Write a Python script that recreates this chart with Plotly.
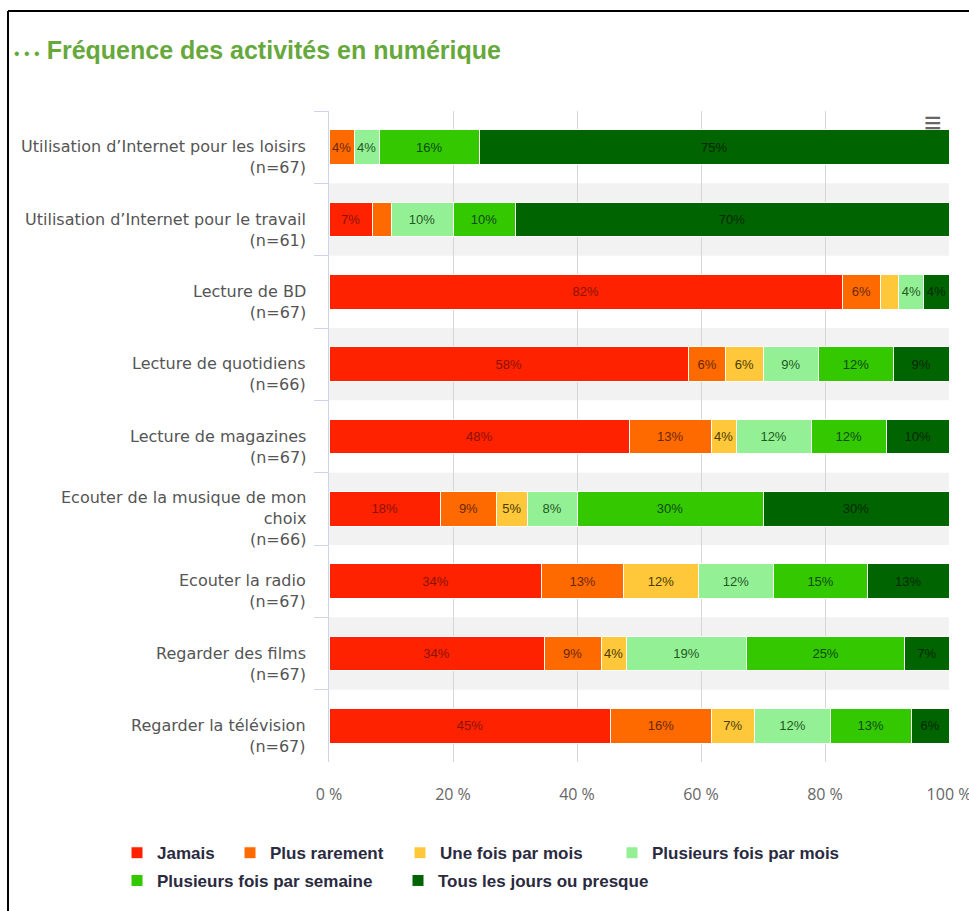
import plotly.graph_objects as go

categories = [
    "Utilisation d’Internet pour les loisirs<br>(n=67)",
    "Utilisation d’Internet pour le travail<br>(n=61)",
    "Lecture de BD<br>(n=67)",
    "Lecture de quotidiens<br>(n=66)",
    "Lecture de magazines<br>(n=67)",
    "Ecouter de la musique de mon<br>choix<br>(n=66)",
    "Ecouter la radio<br>(n=67)",
    "Regarder des films<br>(n=67)",
    "Regarder la télévision<br>(n=67)",
]

series_names = ["Jamais", "Plus rarement", "Une fois par mois",
                "Plusieurs fois par mois", "Plusieurs fois par semaine",
                "Tous les jours ou presque"]

jamais = [0, 7, 82, 58, 48, 18, 34, 34, 45]
plus_rarement = [4, 3, 6, 6, 13, 9, 13, 9, 16]
une_fois_par_mois = [0, 0, 3, 6, 4, 5, 12, 4, 7]
plusieurs_fois_par_mois = [4, 10, 4, 9, 12, 8, 12, 19, 12]
plusieurs_fois_par_semaine = [16, 10, 0, 12, 12, 30, 15, 25, 13]
tous_les_jours = [75, 70, 4, 9, 10, 30, 13, 7, 6]

x_ticks = [0, 20, 40, 60, 80, 100]
x_tick_labels = ["0 %", "20 %", "40 %", "60 %", "80 %", "100 %"]

series_values = [jamais, plus_rarement, une_fois_par_mois,
                 plusieurs_fois_par_mois, plusieurs_fois_par_semaine, tous_les_jours]
colors = ["#FF2200", "#FF6A00", "#FFC83A", "#94F094", "#33C800", "#006400"]
text_colors = ["#8a1200", "#6a2800", "#4a3a00", "#1f5a1f", "#104a10", "#002800"]

# legend placement (pixel positions of each legend box: left x, top y)
legend_ids = ["legend", "legend2", "legend3", "legend4", "legend5", "legend6"]
legend_px = [(117, 843), (230, 843), (400, 843), (612, 843), (117, 871), (398, 871)]

NARROW = "Liberation Sans Narrow, Arial Narrow, Liberation Sans, Arial, sans-serif"
LABEL = "DejaVu Sans, Verdana, sans-serif"

L, R, T, B, W, H = 329, 20, 111, 142, 969, 911
PW, PH = W - L - R, H - T - B


def px_x(x):
    return (x - L) / PW


def px_y(y):
    return (H - B - y) / PH


fig = go.Figure()
for name, vals, col, tcol, lg in zip(series_names, series_values, colors, text_colors, legend_ids):
    fig.add_trace(go.Bar(
        y=categories, x=vals, name=name, orientation="h", legend=lg,
        marker=dict(color=col, line=dict(color="white", width=1)),
        text=[f"{v}%" if v >= 4 else "" for v in vals],
        textposition="inside", insidetextanchor="middle", textangle=0,
        constraintext="none",
        textfont=dict(color=tcol, size=13, family=NARROW),
        hoverinfo="name+x",
    ))

shapes = []
for i in range(len(categories)):
    if i % 2 == 1:
        shapes.append(dict(type="rect", xref="paper", x0=0, x1=1, yref="y",
                           y0=i - 0.5, y1=i + 0.5, fillcolor="#f2f2f2",
                           line=dict(width=0), layer="below"))
# outer frame (left and top edges)
shapes.append(dict(type="line", xref="paper", yref="paper", x0=px_x(8), x1=px_x(8),
                   y0=px_y(10), y1=px_y(960), line=dict(color="black", width=2)))
shapes.append(dict(type="line", xref="paper", yref="paper", x0=px_x(8), x1=px_x(1000),
                   y0=px_y(10), y1=px_y(10), line=dict(color="black", width=2)))

annotations = [dict(text="≡", xref="paper", yref="paper", x=px_x(933), y=px_y(122),
                    xanchor="center", yanchor="middle", showarrow=False,
                    font=dict(size=30, color="#666666"))]
for cat in categories:
    annotations.append(dict(text=cat, xref="paper", yref="y", x=0, y=cat,
                            xanchor="right", yanchor="middle", align="right",
                            xshift=-21, yshift=-10, showarrow=False,
                            font=dict(family=LABEL, size=16, color="#555555")))

layout_legends = {}
for lg, (lx, ly) in zip(legend_ids, legend_px):
    layout_legends[lg] = dict(orientation="h", xanchor="left", yanchor="top",
                              x=px_x(lx), y=px_y(ly),
                              font=dict(family=NARROW, size=17, color="#2a2a40", weight="bold"),
                              itemclick=False, bgcolor="rgba(0,0,0,0)")

fig.update_layout(
    width=W, height=H,
    margin=dict(l=L, r=R, t=T, b=B),
    paper_bgcolor="white", plot_bgcolor="white",
    barmode="stack", barnorm="percent", bargap=0.52,
    title=dict(
        text="<span style='font-size:16px'>• • •</span> <b>Fréquence des activités en numérique</b>",
        x=14 / W, xanchor="left", xref="container",
        y=1 - 50 / H, yanchor="middle", yref="container",
        font=dict(family="Liberation Sans, Arial, sans-serif", size=25, color="#66a83c"),
    ),
    xaxis=dict(range=[0, 100], tickvals=x_ticks, ticktext=x_tick_labels,
               showgrid=True, gridcolor="#d6d6d6", gridwidth=1, zeroline=False,
               showline=False, ticks="", ticklabelstandoff=21, fixedrange=True,
               automargin=False, ticklabeloverflow="allow",
               tickfont=dict(family="Open Sans, Liberation Sans, sans-serif", size=16, color="#666666")),
    yaxis=dict(autorange="reversed", showgrid=False, showline=True,
               linecolor="#ccd6eb", linewidth=1, ticks="outside", tickson="boundaries",
               ticklen=14, tickcolor="#ccd6eb", showticklabels=False, automargin=False),
    shapes=shapes,
    annotations=annotations,
    showlegend=True,
    **layout_legends,
)

fig.write_html("out.html", post_script="document.body.style.margin='0';",
               config={"displayModeBar": False})
